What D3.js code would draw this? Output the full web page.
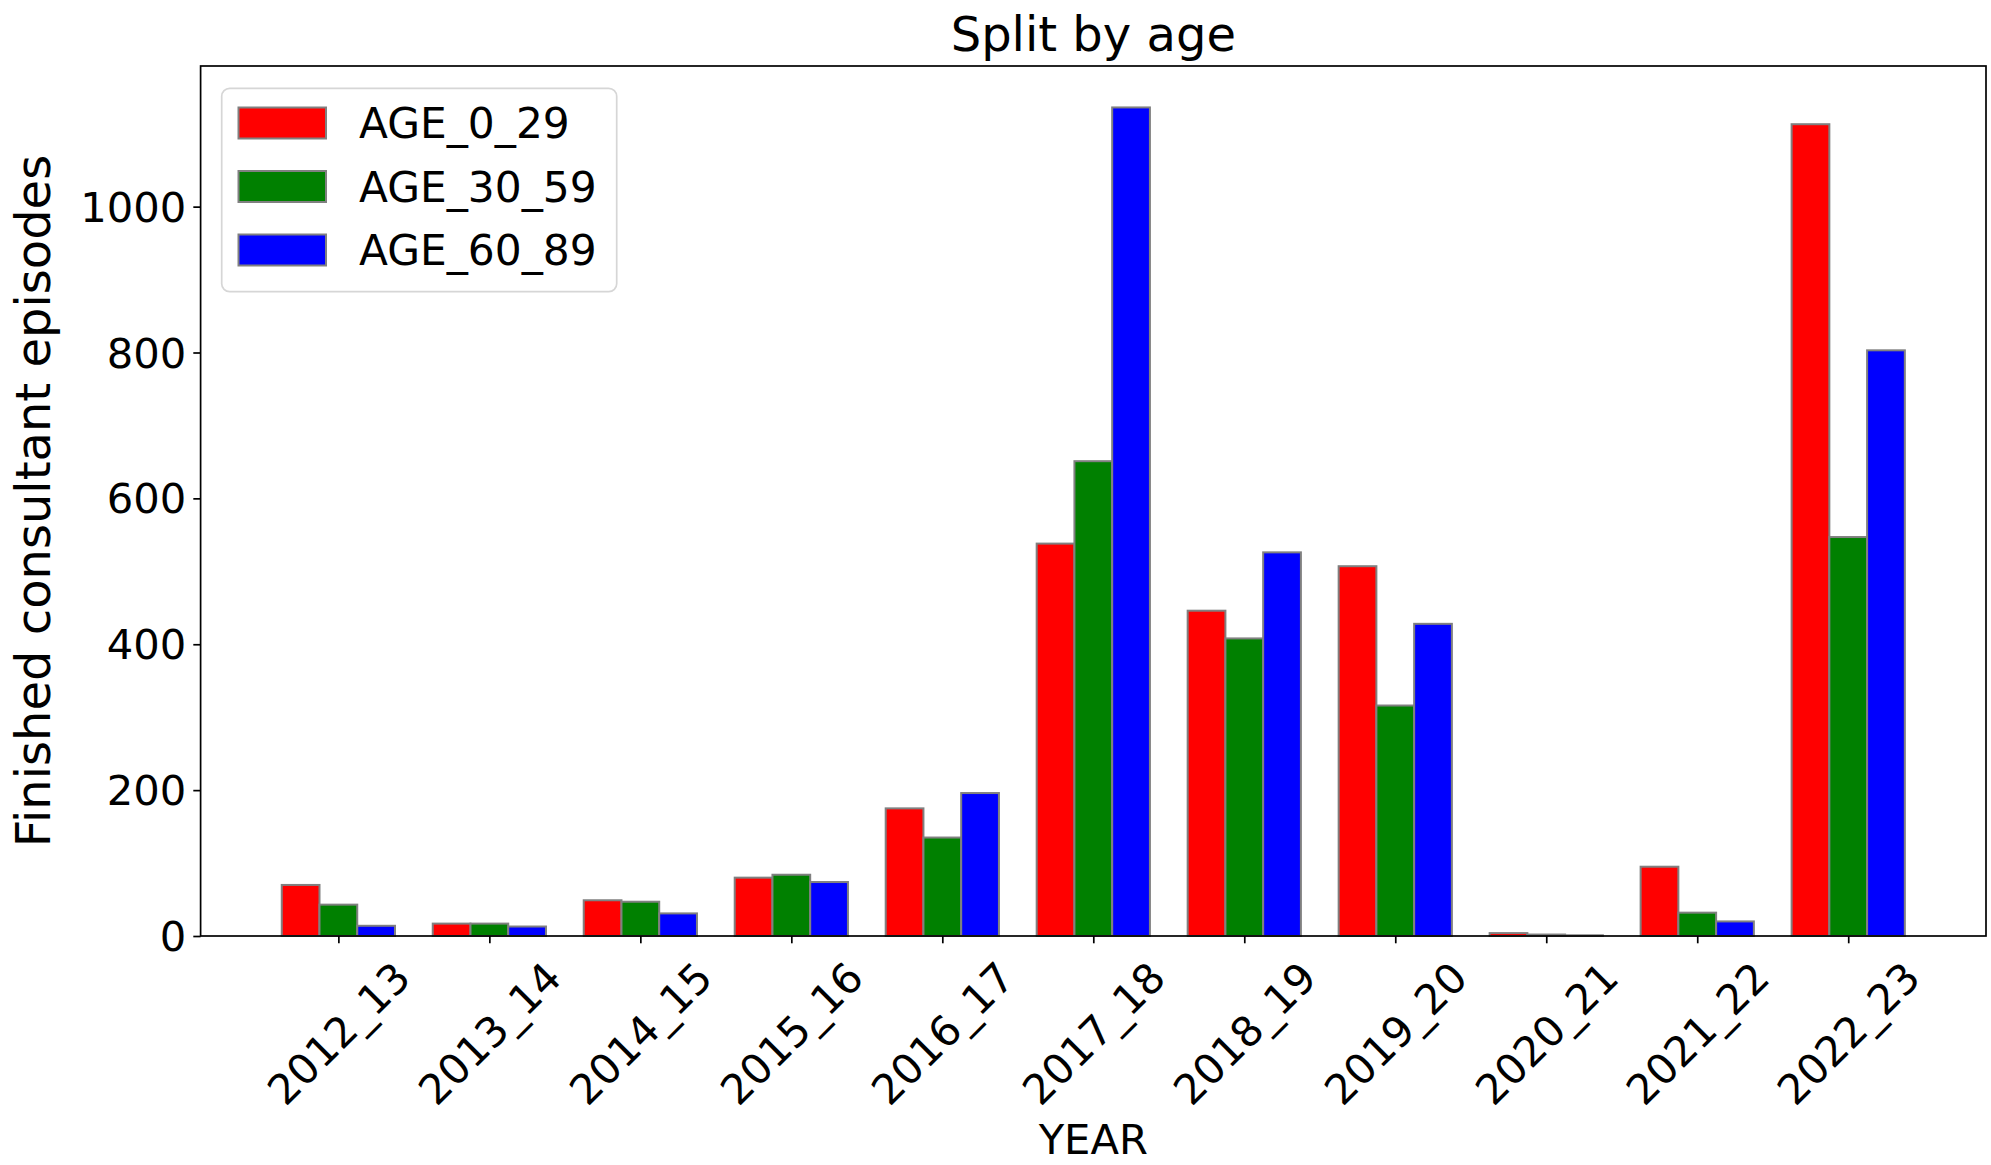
<!DOCTYPE html>
<html>
<head>
<meta charset="utf-8">
<script src="https://cdn.jsdelivr.net/npm/d3@7"></script>
<style>
body { margin: 0; background: #fff; }
text { font-family: "DejaVu Sans", sans-serif; fill: #000; }
</style>
</head>
<body>
<svg id="chart" width="1991" height="1165"></svg>
<script>
// data
var years = ["2012_13", "2013_14", "2014_15", "2015_16", "2016_17", "2017_18",
             "2018_19", "2019_20", "2020_21", "2021_22", "2022_23"];
var age0_29  = [70, 17, 49, 80, 175, 538, 446, 507, 4, 95, 1113];
var age30_59 = [43, 17, 47, 84, 135, 651, 408, 316, 2, 32, 547];
var age60_89 = [14, 13, 31, 74, 196, 1136, 526, 428, 1, 20, 803];
var seriesNames = ["AGE_0_29", "AGE_30_59", "AGE_60_89"];
var seriesColors = ["red", "green", "blue"];
var yTicks = [0, 200, 400, 600, 800, 1000];

var series = [age0_29, age30_59, age60_89];
var barW = 0.25;

// plot box (window.top is read-only, so no "top" here)
var plotL = 200.6, plotR = 1986, plotT = 66, plotB = 936;

var svg = d3.select("#chart");
svg.append("rect").attr("width", 1991).attr("height", 1165).attr("fill", "#fff");

// bars sit at i, i+0.25, i+0.5 ; tick at i+0.25
var allMax = d3.max([d3.max(age0_29), d3.max(age30_59), d3.max(age60_89)]);
var xScale = d3.scaleLinear()
    .domain([-0.125 - 0.05 * 10.75, 10.625 + 0.05 * 10.75])
    .range([plotL, plotR]);
var yScale = d3.scaleLinear()
    .domain([0, allMax * 1.05])
    .range([plotB, plotT]);

// bars
series.forEach(function (vals, s) {
    svg.append("g").selectAll("rect").data(vals).enter().append("rect")
        .attr("x", function (d, i) { return xScale(i + s * barW - barW / 2); })
        .attr("width", xScale(barW) - xScale(0))
        .attr("y", function (d) { return yScale(d); })
        .attr("height", function (d) { return yScale(0) - yScale(d); })
        .attr("fill", seriesColors[s])
        .attr("stroke", "grey")
        .attr("stroke-width", 2);
});

// y axis
var yAxis = d3.axisLeft(yScale).tickValues(yTicks).tickSize(7.3).tickPadding(7).tickFormat(d3.format("d"));
var gy = svg.append("g").attr("transform", "translate(" + plotL + ",0)").call(yAxis);
gy.select(".domain").remove();
gy.selectAll("line").attr("stroke", "#000").attr("stroke-width", 1.7);
gy.selectAll("text").attr("font-size", 41.7).attr("font-family", "DejaVu Sans").attr("dy", "0.35em");

// x axis
var tickPos = years.map(function (d, i) { return i + barW; });
var xAxis = d3.axisBottom(xScale).tickValues(tickPos).tickSize(7.3)
    .tickFormat(function (d, i) { return years[i]; });
var gx = svg.append("g").attr("transform", "translate(0," + plotB + ")").call(xAxis);
gx.select(".domain").remove();
gx.selectAll("line").attr("stroke", "#000").attr("stroke-width", 1.7);
gx.selectAll("text")
    .attr("font-size", 41.7)
    .attr("font-family", "DejaVu Sans")
    .attr("text-anchor", "middle")
    .attr("dominant-baseline", "central")
    .attr("dy", null)
    .each(function () {
        var L = this.getComputedTextLength();
        var side = (L + 34) / Math.SQRT2;
        var cy = 22 + side / 2;
        d3.select(this).attr("y", null)
            .attr("transform", "translate(0," + cy + ") rotate(-45)");
    });

// frame
svg.append("rect")
    .attr("x", plotL).attr("y", plotT)
    .attr("width", plotR - plotL).attr("height", plotB - plotT)
    .attr("fill", "none").attr("stroke", "#000").attr("stroke-width", 1.7);

// titles
svg.append("text").attr("x", (plotL + plotR) / 2).attr("y", 51)
    .attr("text-anchor", "middle").attr("font-size", 48).text("Split by age");
svg.append("text").attr("x", (plotL + plotR) / 2).attr("y", 1154)
    .attr("text-anchor", "middle").attr("font-size", 41.7).text("YEAR");
svg.append("text")
    .attr("transform", "translate(50," + (plotT + plotB) / 2 + ") rotate(-90)")
    .attr("text-anchor", "middle").attr("font-size", 48)
    .text("Finished consultant episodes");

// legend
var lg = svg.append("g");
lg.append("rect").attr("x", 221.7).attr("y", 88.3).attr("width", 395).attr("height", 203.4)
    .attr("rx", 8).attr("fill", "#fff").attr("fill-opacity", 0.8)
    .attr("stroke", "#d6d6d6").attr("stroke-width", 1.7);
seriesNames.forEach(function (name, s) {
    var cy = 123 + s * 63.5;
    lg.append("rect").attr("x", 238.5).attr("y", cy - 15.5).attr("width", 87.5).attr("height", 31)
        .attr("fill", seriesColors[s]).attr("stroke", "grey").attr("stroke-width", 2);
    lg.append("text").attr("x", 359).attr("y", cy).attr("dy", "0.36em")
        .attr("font-size", 42.3).text(name);
});
</script>
</body>
</html>
